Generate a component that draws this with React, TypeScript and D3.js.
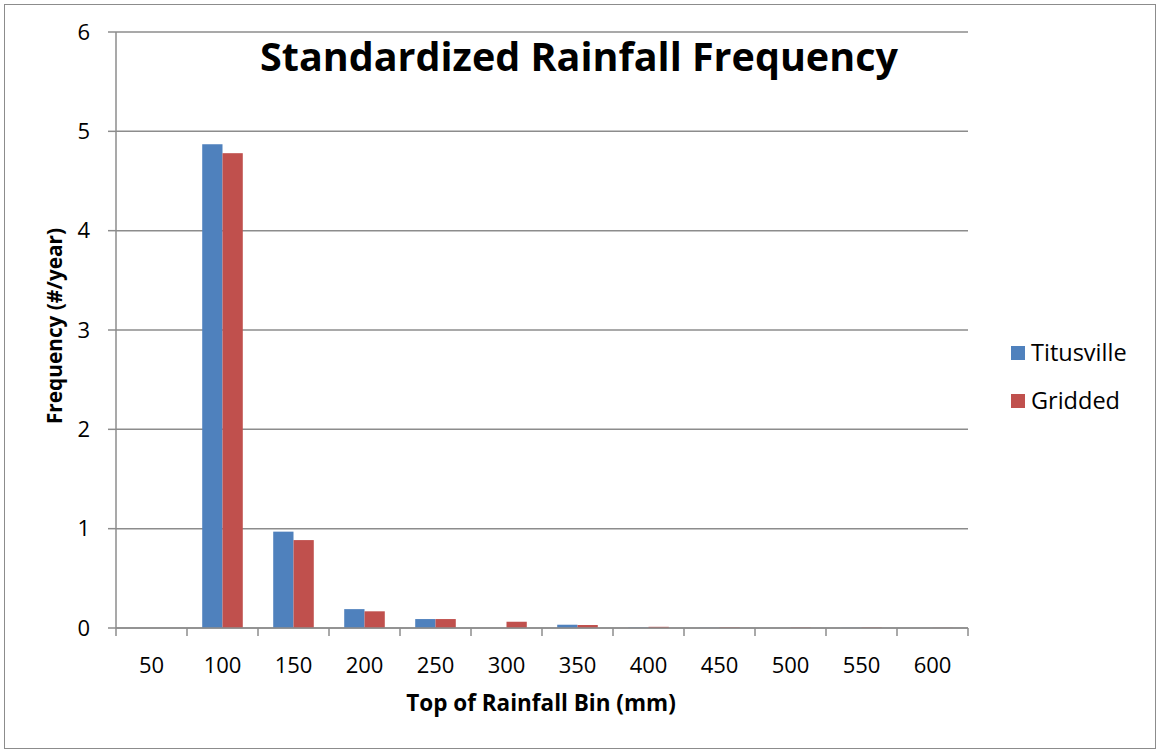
import React from "react";
import * as d3 from "d3";

// Rainfall bin tops (mm)
const bins = ["50", "100", "150", "200", "250", "300", "350", "400", "450", "500", "550", "600"];
// Frequency (#/year) per bin
const titusville = [0, 4.87, 0.97, 0.19, 0.09, 0, 0.033, 0.004, 0.002, 0, 0.002, 0];
const gridded = [0, 4.78, 0.885, 0.168, 0.09, 0.063, 0.03, 0.012, 0.006, 0.005, 0.005, 0.002];
const yTicks = [0, 1, 2, 3, 4, 5, 6];

const seriesNames = ["Titusville", "Gridded"];
const seriesColors = ["#4F81BD", "#C0504D"];

const W = 1160;
const H = 752;
const margin = { left: 116, right: 192, top: 32, bottom: 124 };
const FONT = "'Open Sans', sans-serif";

export default function App() {
  const x0 = d3
    .scaleBand<string>()
    .domain(bins)
    .range([margin.left, W - margin.right])
    .paddingInner(0)
    .paddingOuter(0);
  const x1 = d3
    .scaleBand<string>()
    .domain(seriesNames)
    .range([0, x0.bandwidth()])
    .paddingInner(0)
    .paddingOuter(0.75);
  const y = d3.scaleLinear().domain([0, 6]).range([H - margin.bottom, margin.top]);

  const data = [titusville, gridded];
  const tickBounds = d3.range(bins.length + 1).map((i) => margin.left + i * x0.step());

  return (
    <div style={{ position: "absolute", left: 0, top: 0 }}>
      <svg width={W} height={H} style={{ display: "block", background: "#fff" }}>
        <rect x={4.5} y={4.5} width={1151} height={744} fill="#fff" stroke="#8c8c8c" strokeWidth={1} />
        {/* horizontal gridlines */}
        {yTicks.map((t) => (
          <line key={"g" + t} x1={margin.left} x2={W - margin.right} y1={y(t)} y2={y(t)} stroke="#8c8c8c" strokeWidth={1.5} />
        ))}
        {/* y axis */}
        <line x1={margin.left} x2={margin.left} y1={y(6)} y2={y(0)} stroke="#8c8c8c" strokeWidth={1.5} />
        {yTicks.map((t) => (
          <g key={"yt" + t}>
            <line x1={margin.left - 8} x2={margin.left} y1={y(t)} y2={y(t)} stroke="#8c8c8c" strokeWidth={1.5} />
            <text x={margin.left - 26} y={y(t)} dy="0.35em" textAnchor="end" fontFamily={FONT} fontSize={22} fill="#000">
              {t}
            </text>
          </g>
        ))}
        {/* bars */}
        {data.map((vals, si) =>
          vals.map((v, i) => (
            <rect
              key={si + "-" + i}
              x={(x0(bins[i]) as number) + (x1(seriesNames[si]) as number)}
              y={y(v)}
              width={x1.bandwidth()}
              height={y(0) - y(v)}
              fill={seriesColors[si]}
            />
          ))
        )}
        {/* x axis */}
        <line x1={margin.left} x2={W - margin.right} y1={y(0)} y2={y(0)} stroke="#8c8c8c" strokeWidth={1.5} />
        {tickBounds.map((tx, i) => (
          <line key={"xt" + i} x1={tx} x2={tx} y1={y(0)} y2={y(0) + 8} stroke="#8c8c8c" strokeWidth={1.5} />
        ))}
        {bins.map((b) => (
          <text
            key={"xl" + b}
            x={(x0(b) as number) + x0.bandwidth() / 2}
            y={y(0) + 37}
            dy="0.35em"
            textAnchor="middle"
            fontFamily={FONT}
            fontSize={22}
            fill="#000"
          >
            {b}
          </text>
        ))}
        {/* title */}
        <text x={579} y={71} textAnchor="middle" fontFamily={FONT} fontWeight="bold" fontSize={39.5} fill="#000">
          Standardized Rainfall Frequency
        </text>
        {/* axis titles */}
        <text x={541} y={703} dy="0.35em" textAnchor="middle" fontFamily={FONT} fontWeight="bold" fontSize={22.5} fill="#000">
          Top of Rainfall Bin (mm)
        </text>
        <text
          transform={`translate(55, ${y(3) - 4}) rotate(-90)`}
          dy="0.35em"
          textAnchor="middle"
          fontFamily={FONT}
          fontWeight="bold"
          fontSize={20.8}
          fill="#000"
        >
          Frequency (#/year)
        </text>
        {/* legend */}
        {seriesNames.map((s, i) => (
          <g key={"lg" + s} transform={`translate(1011, ${346 + i * 48})`}>
            <rect width={14} height={14} fill={seriesColors[i]} />
            <text x={20} y={7} dy="0.35em" fontFamily={FONT} fontSize={23.5} fill="#000">
              {s}
            </text>
          </g>
        ))}
      </svg>
    </div>
  );
}
